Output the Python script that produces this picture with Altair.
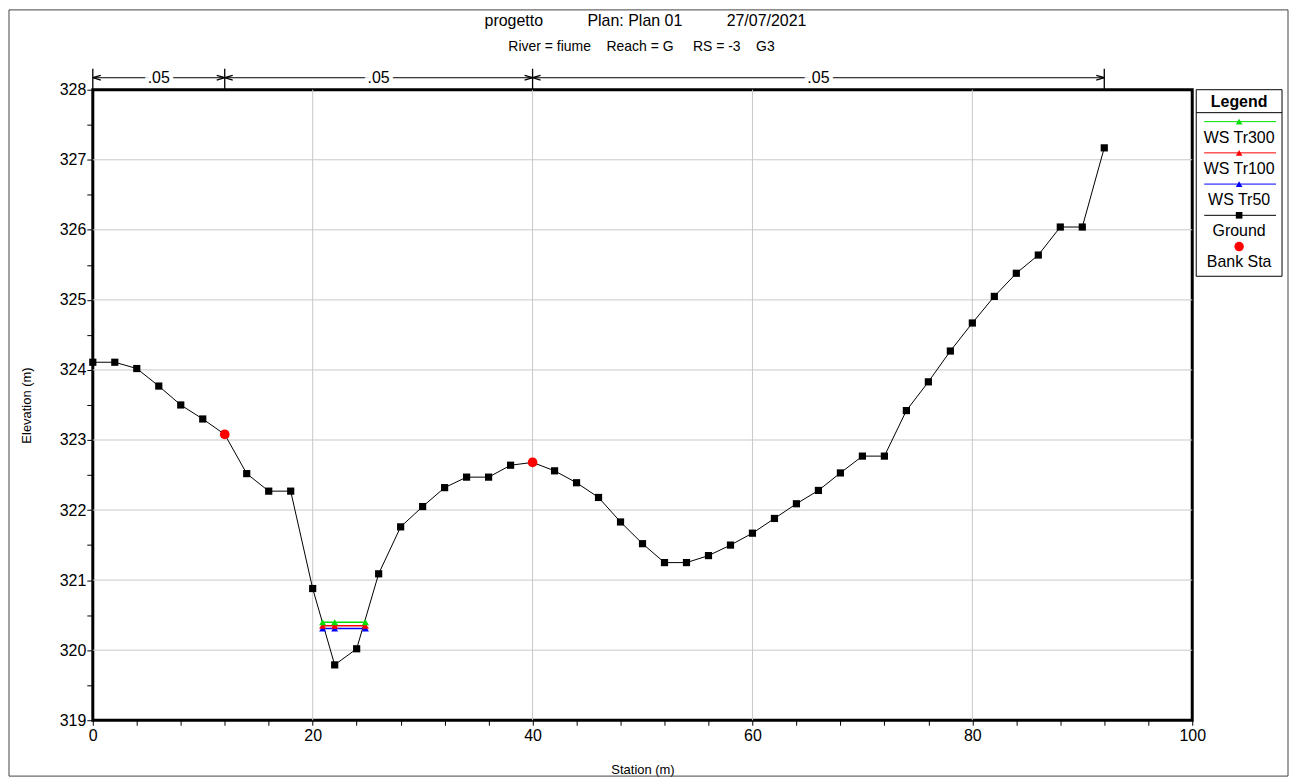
import altair as alt
import pandas as pd

# ---------------- data ----------------
ground_station = [0, 2, 4, 6, 8, 10, 12, 14, 16, 18, 20, 22, 24, 26, 28, 30, 32, 34, 36, 38, 40,
                  42, 44, 46, 48, 50, 52, 54, 56, 58, 60, 62, 64, 66, 68, 70, 72, 74, 76, 78, 80,
                  82, 84, 86, 88, 90, 92]
ground_elev = [324.11, 324.11, 324.02, 323.77, 323.50, 323.30, 323.08, 322.52, 322.27, 322.27,
               320.88, 319.79, 320.02, 321.09, 321.76, 322.05, 322.32, 322.47, 322.47, 322.64,
               322.68, 322.56, 322.39, 322.18, 321.83, 321.52, 321.25, 321.25, 321.35, 321.50,
               321.67, 321.88, 322.09, 322.28, 322.53, 322.77, 322.77, 323.42, 323.83, 324.27,
               324.67, 325.05, 325.38, 325.64, 326.04, 326.04, 327.17]
bank_station = [12, 40]
bank_elev = [323.08, 322.68]
ws_station = [20.9, 22.0, 24.8]
ws_tr300 = [320.40, 320.40, 320.40]
ws_tr100 = [320.35, 320.35, 320.35]
ws_tr50 = [320.31, 320.31, 320.31]
n_breaks = [0, 12, 40, 92]
n_labels = [".05", ".05", ".05"]
x_grid = [20, 40, 60, 80]
y_grid = [320, 321, 322, 323, 324, 325, 326, 327]
x_tick_values = [0, 4, 8, 12, 16, 20, 24, 28, 32, 36, 40, 44, 48, 52, 56, 60, 64, 68, 72, 76,
                 80, 84, 88, 92, 96, 100]
y_tick_values = [319, 319.5, 320, 320.5, 321, 321.5, 322, 322.5, 323, 323.5, 324, 324.5, 325,
                 325.5, 326, 326.5, 327, 327.5, 328]
legend_labels = ["WS Tr300", "WS Tr100", "WS Tr50", "Ground", "Bank Sta"]
NB = "\u00a0"
title_line1 = "progetto" + NB * 10 + "Plan: Plan 01" + NB * 10 + "27/07/2021"
title_line2 = "River = fiume" + NB * 4 + "Reach = G" + NB * 5 + "RS = -3" + NB * 4 + "G3"

# ---------------- styling ----------------
FONT = "Liberation Sans"
W, H = 1102, 632
GREEN, RED, BLUE, GRID = "#00e000", "#ff0000", "#0000ff", "#c8c8c8"

xs = alt.Scale(domain=[0, 100], nice=False, zero=False)
ys = alt.Scale(domain=[319, 328], nice=False, zero=False)
one = pd.DataFrame({"k": [0]})

x_axis = alt.Axis(values=x_tick_values, labelExpr="datum.value % 20 === 0 ? datum.label : ''",
                  grid=False, domain=False, tickSize=5, tickColor="black", tickWidth=1,
                  labelFontSize=16, labelColor="black", labelFont=FONT, labelPadding=2,
                  labelFlush=False, labelOverlap=False,
                  title="Station (m)", titleFont=FONT, titleFontSize=13, titleFontWeight="normal",
                  titleColor="black", titleX=W / 2, titleY=49, titleBaseline="middle")
y_axis = alt.Axis(values=y_tick_values, labelExpr="datum.value % 1 === 0 ? format(datum.value, 'd') : ''",
                  grid=False, domain=False, tickSize=6, tickColor="black", tickWidth=1,
                  labelFontSize=16, labelColor="black", labelFont=FONT, labelPadding=1,
                  labelFlush=False, labelOverlap=False,
                  title="Elevation (m)", titleFont=FONT, titleFontSize=13, titleFontWeight="normal",
                  titleColor="black", titleX=-66, titleY=H / 2, titleBaseline="middle", titleAngle=-90)


def X(field="x"):
    return alt.X(f"{field}:Q", scale=xs, axis=x_axis)


def Y(field="y"):
    return alt.Y(f"{field}:Q", scale=ys, axis=y_axis)


layers = []

# grid
gx = pd.DataFrame({"x": x_grid})
layers.append(alt.Chart(gx).mark_rule(color=GRID, strokeWidth=1).encode(
    x=X(), y=alt.value(0), y2=alt.value(H)))
gy = pd.DataFrame({"y": y_grid})
layers.append(alt.Chart(gy).mark_rule(color=GRID, strokeWidth=1).encode(
    y=Y(), x=alt.value(0), x2=alt.value(W)))

# ground
gdf = pd.DataFrame({"x": ground_station, "y": ground_elev})
layers.append(alt.Chart(gdf).mark_line(color="black", strokeWidth=1).encode(x=X(), y=Y()))
layers.append(alt.Chart(gdf).mark_square(color="black", size=52, opacity=1).encode(x=X(), y=Y()))

# water surfaces
for vals, col in [(ws_tr50, BLUE), (ws_tr100, RED), (ws_tr300, GREEN)]:
    wdf = pd.DataFrame({"x": ws_station, "y": vals})
    layers.append(alt.Chart(wdf).mark_line(color=col, strokeWidth=1.5).encode(x=X(), y=Y()))
    layers.append(alt.Chart(wdf).mark_point(shape="triangle-up", filled=True, color=col, size=48,
                                            opacity=1).encode(x=X(), y=Y()))

# bank stations
bdf = pd.DataFrame({"x": bank_station, "y": bank_elev})
layers.append(alt.Chart(bdf).mark_circle(color=RED, size=95, opacity=1).encode(x=X(), y=Y()))

# Manning's n annotation above plot
ndf = pd.DataFrame({"x": n_breaks})
layers.append(alt.Chart(ndf).mark_rule(color="black", strokeWidth=1.3).encode(
    x=X(), y=alt.value(-21), y2=alt.value(0)))
span = pd.DataFrame({"x": [n_breaks[0]], "x2": [n_breaks[-1]]})
layers.append(alt.Chart(span).mark_rule(color="black", strokeWidth=1).encode(
    x=X(), x2="x2:Q", y=alt.value(-12)))
left_tips = pd.DataFrame({"x": n_breaks[:-1]})
right_tips = pd.DataFrame({"x": n_breaks[1:]})
layers.append(alt.Chart(left_tips).mark_point(shape="M 0 0 L 2 -0.6 M 0 0 L 2 0.6", filled=False,
                                             stroke="black", strokeWidth=1.3, size=64, opacity=1).encode(
    x=X(), y=alt.value(-12)))
layers.append(alt.Chart(right_tips).mark_point(shape="M 0 0 L -2 -0.6 M 0 0 L -2 0.6", filled=False,
                                              stroke="black", strokeWidth=1.3, size=64, opacity=1).encode(
    x=X(), y=alt.value(-12)))
mid = pd.DataFrame({"x": [(a + b) / 2 for a, b in zip(n_breaks[:-1], n_breaks[1:])], "t": n_labels})
layers.append(alt.Chart(mid).mark_text(font=FONT, fontSize=16, stroke="white", strokeWidth=8,
                                       color="white", baseline="middle").encode(
    x=X(), y=alt.value(-12), text="t:N"))
layers.append(alt.Chart(mid).mark_text(font=FONT, fontSize=16, color="black", baseline="middle").encode(
    x=X(), y=alt.value(-12), text="t:N"))

# titles
layers.append(alt.Chart(one).mark_text(font=FONT, fontSize=16, color="black", baseline="middle",
                                       text=title_line1).encode(x=alt.value(554), y=alt.value(-69)))
layers.append(alt.Chart(one).mark_text(font=FONT, fontSize=14, color="black", baseline="middle",
                                       text=title_line2).encode(x=alt.value(550), y=alt.value(-43)))

# legend (drawn manually)
LX0, LX1, LY0, LY1 = 1106, 1192, 0, 187
LC = (LX0 + LX1) / 2
layers.append(alt.Chart(one).mark_rect(fill="white", stroke="black", strokeWidth=1).encode(
    x=alt.value(LX0), x2=alt.value(LX1), y=alt.value(LY0), y2=alt.value(LY1)))
layers.append(alt.Chart(one).mark_text(font=FONT, fontSize=16, fontWeight="bold", color="black",
                                       baseline="middle", text="Legend").encode(x=alt.value(LC), y=alt.value(12)))
layers.append(alt.Chart(one).mark_rule(color="black", strokeWidth=1).encode(
    x=alt.value(LX0), x2=alt.value(LX1), y=alt.value(23)))
sym = [(GREEN, "triangle-up", True), (RED, "triangle-up", True), (BLUE, "triangle-up", True),
       ("black", "square", True), (RED, "circle", False)]
for i, (lab, (col, shp, has_line)) in enumerate(zip(legend_labels, sym)):
    ly = 32 + 31.3 * i
    if has_line:
        layers.append(alt.Chart(one).mark_rule(color=col, strokeWidth=1).encode(
            x=alt.value(LX0 + 8), x2=alt.value(LX1 - 6), y=alt.value(ly)))
    layers.append(alt.Chart(one).mark_point(shape=shp, filled=True, color=col, opacity=1,
                                            size=44 if shp != "circle" else 90).encode(
        x=alt.value(LC), y=alt.value(ly)))
    layers.append(alt.Chart(one).mark_text(font=FONT, fontSize=16, color="black", baseline="middle",
                                           text=lab).encode(x=alt.value(LC), y=alt.value(ly + 16)))

# outer frame
layers.append(alt.Chart(one).mark_rect(fillOpacity=0, stroke="#444444", strokeWidth=1).encode(
    x=alt.value(-84), x2=alt.value(1198), y=alt.value(-80), y2=alt.value(688)))

chart = alt.layer(*layers).properties(
    width=W, height=H,
    background="white",
    autosize=alt.AutoSizeParams(type="none"),
    padding={"left": 85, "top": 81, "right": 98, "bottom": 58},
).configure_view(stroke="black", strokeWidth=3)

chart.save("out.html", embed_options={"renderer": "svg", "actions": False})
